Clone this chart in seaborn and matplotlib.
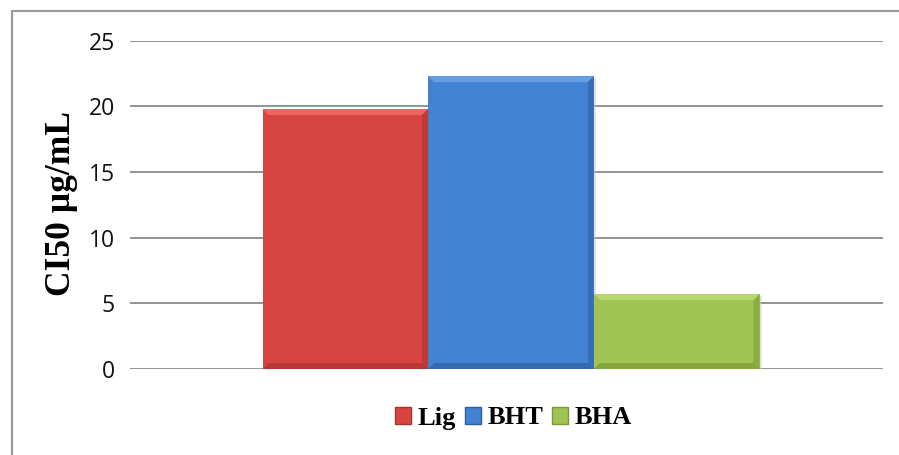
import numpy as np
import pandas as pd
import matplotlib
matplotlib.use("Agg")
import matplotlib.pyplot as plt
from matplotlib.patches import Polygon
from matplotlib.lines import Line2D
import seaborn as sns

# IC50 values (µg/mL) for the extract and the two reference antioxidants
compounds = ["Lig", "BHT", "BHA"]
ci50 = [19.8, 22.3, 5.7]
y_ticks = [0, 5, 10, 15, 20, 25]

face = ["#D8443F", "#4383D3", "#9FC453"]
light = ["#F2726C", "#74A8EA", "#C0DE7A"]
dark = ["#A93330", "#2E609F", "#7A9A35"]

sns.set_theme(style="white")
plt.rcParams["font.family"] = ["Open Sans", "DejaVu Sans"]

fig = plt.figure(figsize=(8.99, 4.55), dpi=100)
ax = fig.add_axes([130 / 899, 1 - 369 / 455, 753 / 899, (369 - 40.7) / 455])

df = pd.DataFrame({"group": [""] * len(compounds), "compound": compounds, "ci50": ci50})
sns.barplot(data=df, x="group", y="ci50", hue="compound", hue_order=compounds,
            palette=face, width=0.66, saturation=1, ax=ax, legend=False,
            edgecolor="none", linewidth=0, zorder=3)

ax.set_ylim(0, 25)
ax.set_xlim(-0.506, 0.494)
ax.set_yticks(y_ticks)
ax.set_yticklabels([str(t) for t in y_ticks], fontsize=16.5, color="#111111")
ax.tick_params(axis="y", length=0, pad=11)
ax.tick_params(axis="x", length=0, labelbottom=False)
ax.set_xlabel("")
ax.set_ylabel("")
for s in ax.spines.values():
    s.set_visible(False)
ax.yaxis.grid(True, color="#8a8a8a", linewidth=1.3, zorder=0)
ax.set_axisbelow(True)

# bevelled edges on each bar, built from the bar geometry
to_disp = ax.transData
to_data = ax.transData.inverted()
bev = 6.0
bars = [p for p in ax.patches if p.get_height() > 0]
bars.sort(key=lambda p: p.get_x())
for i, p in enumerate(bars):
    x0, y0 = p.get_x(), p.get_y()
    x1, y1 = x0 + p.get_width(), y0 + p.get_height()
    (X0, Y0), (X1, Y1) = to_disp.transform([(x0, y0), (x1, y1)])
    # soft shadow to the right and below
    sh = [(X0 + 2, Y0 - 2), (X1 + 2, Y0 - 2), (X1 + 2, Y1 - 2), (X1, Y1 - 2), (X1, Y0), (X0 + 2, Y0)]
    ax.add_patch(Polygon(to_data.transform(sh), closed=True, facecolor="#c8c8c8",
                         edgecolor="none", zorder=2.5, alpha=0.5))
    pieces = [
        ([(X0, Y1), (X1, Y1), (X1 - bev, Y1 - bev), (X0 + bev, Y1 - bev)], light[i], 0.75),
        ([(X0, Y0), (X1, Y0), (X1 - bev, Y0 + bev), (X0 + bev, Y0 + bev)], dark[i], 0.7),
        ([(X1, Y0), (X1, Y1), (X1 - bev, Y1 - bev), (X1 - bev, Y0 + bev)], dark[i], 0.55),
    ]
    for pts, col, a in pieces:
        ax.add_patch(Polygon(to_data.transform(pts), closed=True, facecolor=col,
                             edgecolor="none", zorder=4, alpha=a))

# legend
handles = [plt.Rectangle((0, 0), 1, 1, facecolor=face[i], edgecolor=dark[i], linewidth=1.0)
           for i in range(len(compounds))]
fig.legend(handles, compounds, loc="center", bbox_to_anchor=(513.5 / 899, 1 - 418 / 455),
           ncol=3, frameon=False, handlelength=0.6, handleheight=0.6,
           handletextpad=0.25, columnspacing=0.35, borderpad=0, labelcolor="black",
           prop={"family": "Liberation Serif", "weight": "bold", "size": 19})

# y-axis title
fig.text(62 / 899, 1 - 204 / 455, "CI50 µg/mL", rotation=90, ha="center", va="center",
         family="Liberation Serif", fontweight="bold", fontsize=25.5, color="black")

# chart frame (left and top edges)
fig.add_artist(Line2D([11.5 / 899, 11.5 / 899], [0, 1 - 10.5 / 455], transform=fig.transFigure,
                      color="#9a9a9a", linewidth=1.6))
fig.add_artist(Line2D([11.5 / 899, 1], [1 - 10.5 / 455, 1 - 10.5 / 455], transform=fig.transFigure,
                      color="#9a9a9a", linewidth=1.6))

fig.savefig("out.png", dpi=100)
